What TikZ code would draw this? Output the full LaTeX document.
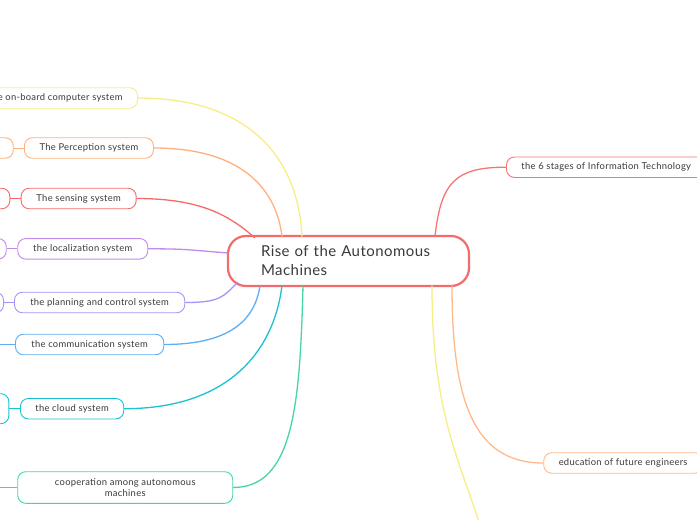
\documentclass[tikz,border=0pt]{standalone}
\usepackage{fontspec}
\setmainfont[LetterSpace=3]{Lato}
\definecolor{txt}{HTML}{3A3A3A}
\definecolor{cR}{HTML}{F46B6B}
\definecolor{cY}{HTML}{F7EE86}
\definecolor{cO}{HTML}{FFB07C}
\definecolor{cS}{HTML}{F56A6A}
\definecolor{cL}{HTML}{C18AEB}
\definecolor{cPl}{HTML}{A595F7}
\definecolor{cC}{HTML}{5EAEF4}
\definecolor{cCl}{HTML}{18C4D2}
\definecolor{cG}{HTML}{44D7A4}
\definecolor{cI}{HTML}{F57575}
\definecolor{cE}{HTML}{FFB98A}
\begin{document}
\begin{tikzpicture}[x=1pt,y=-1pt,
  child/.style={draw=#1, line width=0.9pt, rounded corners=8pt, fill=white,
    minimum height=20.5pt, inner xsep=0pt, inner ysep=2pt,
    font=\fontsize{9.4}{11.4}\selectfont, text=txt},
  conn/.style={draw=#1, line width=1.3pt},
]
\useasboundingbox (0,0) rectangle (697,520);
\clip (0,0) rectangle (697,520);
\fill[white] (0,0) rectangle (697,520);

% central node
\node[draw=cR, line width=2.2pt, rounded corners=18pt, fill=white,
  minimum width=241pt, minimum height=50pt, text width=175pt, align=left,
  font=\fontsize{15}{19}\selectfont, text=txt] (root) at (348.5,261)
  {Rise of the Autonomous\\Machines};

% attachment points on the central node
\coordinate (rY) at (302,236.5);
\coordinate (rO) at (282,236.5);
\coordinate (rS) at (255,238);
\coordinate (rL) at (228.5,253);
\coordinate (rP) at (238,282);
\coordinate (rC) at (260,285.5);
\coordinate (rCl) at (282,285.5);
\coordinate (rG) at (303,285.5);
\coordinate (rI) at (435,236.5);
\coordinate (rE) at (452,285.5);
\coordinate (rY2) at (432,285.5);

% left children
\node[child=cY, anchor=east, inner xsep=15pt] (onb) at (138,98) {the on-board computer system};
\node[child=cO, anchor=west, minimum width=129pt] (perc) at (24,148) {The Perception system};
\node[child=cS, anchor=west, minimum width=115pt] (sens) at (20.7,198.5) {The sensing system};
\node[child=cL, anchor=west, minimum width=130pt] (loc) at (17.3,248.8) {the localization system};
\node[child=cPl, anchor=west, minimum width=170.3pt] (plan) at (14,302.5) {the planning and control system};
\node[child=cC, anchor=west, minimum width=148.3pt] (comm) at (15,344.5) {the communication system};
\node[child=cCl, anchor=west, minimum width=103.3pt] (cloud) at (20,408.7) {the cloud system};
\node[child=cG, anchor=west, minimum width=215pt, minimum height=31.6pt, align=center] (coop) at (17.3,487.5)
  {cooperation among autonomous\\machines};

% partially visible grandchildren on the left
\node[child=cO, anchor=east, minimum width=40pt] (percx) at (13.7,148) {};
\node[child=cS, anchor=east, minimum width=40pt] (sensx) at (10.3,198.5) {};
\node[child=cL, anchor=east, minimum width=40pt] (locx) at (6.7,248.8) {};
\node[child=cPl, anchor=east, minimum width=40pt] (planx) at (4,302.5) {};
\node[child=cCl, anchor=east, minimum width=40pt, minimum height=30pt] (cloudx) at (9.3,408.7) {};
\coordinate (commx) at (-10,344.5);
\coordinate (coopx) at (-10,487.5);

% right children
\node[child=cI, anchor=west, inner xsep=15pt] (info) at (506,167.2) {the 6 stages of Information Technology};
\node[child=cE, anchor=west, inner xsep=15pt] (edu) at (543.3,463) {education of future engineers};
\coordinate (yb) at (485,540);

% connectors
\draw[conn=cY] (onb.east) .. controls +(110,0) and +(-4,-80) .. (rY);
\draw[conn=cO] (perc.east) .. controls +(85,0) and +(-6,-50) .. (rO);
\draw[conn=cS] (sens.east) .. controls +(65,0) and +(-25,-22) .. (rS);
\draw[conn=cL] (loc.east) .. controls +(40,0) and +(-40,-3) .. (rL);
\draw[conn=cPl] (plan.east) .. controls +(35,0) and +(-15,15) .. (rP);
\draw[conn=cC] (comm.east) .. controls +(65,0) and +(-5,35) .. (rC);
\draw[conn=cCl] (cloud.east) .. controls +(105,0) and +(-8,65) .. (rCl);
\draw[conn=cG] (coop.east) .. controls +(60,0) and +(-3,120) .. (rG);

\draw[conn=cO, line width=1pt] (percx) -- (perc);
\draw[conn=cS, line width=1pt] (sensx) -- (sens);
\draw[conn=cL, line width=1pt] (locx) -- (loc);
\draw[conn=cPl, line width=1pt] (planx) -- (plan);
\draw[conn=cC, line width=1pt] (commx) -- (comm);
\draw[conn=cCl, line width=1pt] (cloudx) -- (cloud);
\draw[conn=cG, line width=1pt] (coopx) -- (coop);

\draw[conn=cI] (rI) .. controls +(6,-55) and +(-50,0) .. (info.west);
\draw[conn=cE] (rE) .. controls +(0,115) and +(-70,0) .. (edu.west);
\draw[conn=cY] (rY2) .. controls +(0,130) and +(-25,-80) .. (yb);
\end{tikzpicture}
\end{document}
